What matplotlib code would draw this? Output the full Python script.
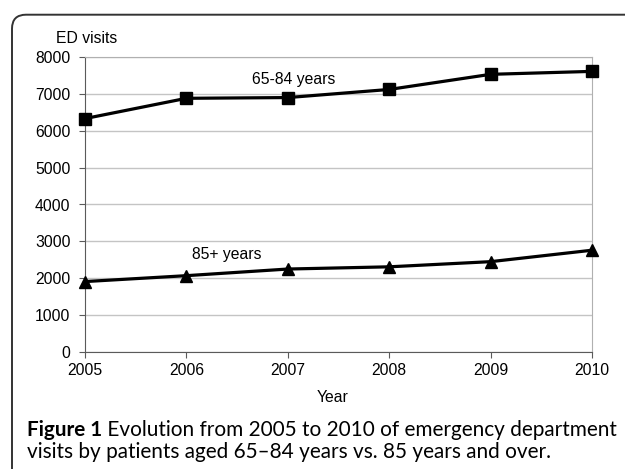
import matplotlib
matplotlib.use("Agg")
import matplotlib.pyplot as plt
from matplotlib.patches import FancyBboxPatch
from matplotlib.transforms import IdentityTransform

# data
years = [2005, 2006, 2007, 2008, 2009, 2010]
visits_65_84 = [6330, 6880, 6900, 7120, 7530, 7610]
visits_85_plus = [1910, 2070, 2250, 2310, 2450, 2760]
y_ticks = [0, 1000, 2000, 3000, 4000, 5000, 6000, 7000, 8000]
caption_bold = "Figure 1"
caption_line1 = " Evolution from 2005 to 2010 of emergency department"
caption_line2 = "visits by patients aged 65\u201384 years vs. 85 years and over."

W, H = 625, 469
plt.rcParams['font.family'] = ['Liberation Sans', 'DejaVu Sans']
FS = 11.3

fig = plt.figure(figsize=(W / 100, H / 100), dpi=100)
fig.patch.set_facecolor('white')

def fx(px):
    return px / W

def fy(py):
    return 1 - py / H

# rounded frame, cut off on the right and bottom
frame = FancyBboxPatch((12, -40), 700, H - 14.7 + 40,
                       boxstyle="round,pad=0,rounding_size=14",
                       transform=IdentityTransform(), fill=False,
                       edgecolor='#333333', linewidth=1.4)
fig.patches.append(frame)

ax = fig.add_axes([fx(85), fy(352), fx(592) - fx(85), fy(57) - fy(352)])
ax.plot(years, visits_65_84, color='black', lw=2.3, marker='s', ms=8.5, clip_on=False, zorder=5)
ax.plot(years, visits_85_plus, color='black', lw=2.3, marker='^', ms=9, clip_on=False, zorder=5)

ax.set_xlim(2005, 2010)
ax.set_ylim(0, 8000)
ax.set_xticks(years)
ax.set_yticks(y_ticks)
ax.yaxis.grid(True, color='#c4c4c4', lw=1)
ax.set_axisbelow(True)
for s in ['top', 'right']:
    ax.spines[s].set_color('#b0b0b0')
for s in ['left', 'bottom']:
    ax.spines[s].set_color('#5a5a5a')
ax.tick_params(axis='y', direction='out', length=4, pad=6.5, labelsize=FS, color='#5a5a5a')
ax.tick_params(axis='x', direction='out', length=4, pad=4, labelsize=FS, color='#5a5a5a')

ax.text(2007.06, 7390, "65-84 years", ha='center', va='center', fontsize=FS)
ax.text(2006.40, 2650, "85+ years", ha='center', va='center', fontsize=FS)

fig.text(fx(56), fy(38.5), "ED visits", ha='left', va='center', fontsize=FS)
fig.text(fx(333), fy(397.5), "Year", ha='center', va='center', fontsize=FS)

# caption, sized to span the same width as the original
cap_font = ['Lato', 'DejaVu Sans']
fs = 13
renderer = fig.canvas.get_renderer()
t_bold = fig.text(fx(27), fy(430), caption_bold, ha='left', va='center',
                  fontsize=fs, fontweight='bold', family=cap_font)
t_rest = fig.text(0, fy(430), caption_line1, ha='left', va='center',
                  fontsize=fs, family=cap_font)
wb = t_bold.get_window_extent(renderer).width
wr = t_rest.get_window_extent(renderer).width
fs = fs * 588 / (wb + wr)
t_bold.set_fontsize(fs)
t_rest.set_fontsize(fs)
wb = t_bold.get_window_extent(renderer).width
t_rest.set_x(fx(27 + wb))
fig.text(fx(27), fy(452), caption_line2, ha='left', va='center',
         fontsize=fs, family=cap_font)

fig.savefig("out.png", dpi=100)
